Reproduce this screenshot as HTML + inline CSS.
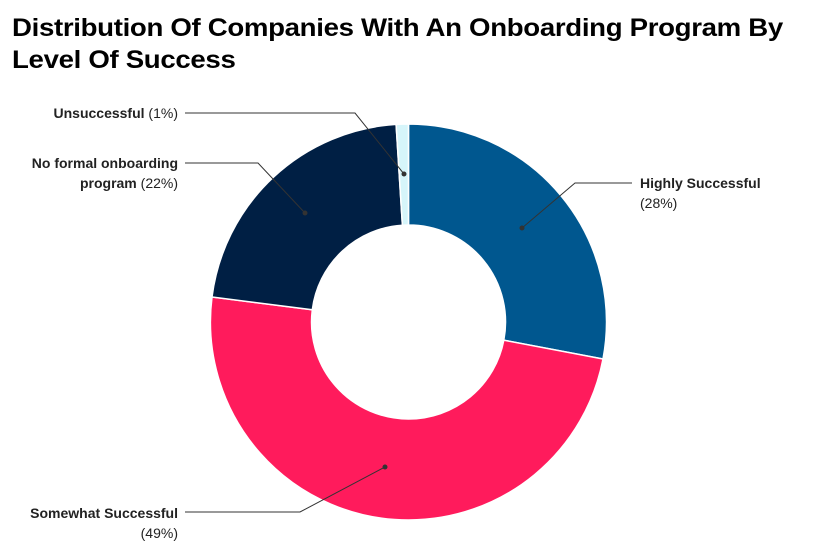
<!DOCTYPE html>
<html><head><meta charset="utf-8"><style>
body{margin:0;background:#fff;width:814px;height:552px;overflow:hidden;font-family:"Liberation Sans",sans-serif;}
h1{position:absolute;left:12px;top:12px;margin:0;font-size:25px;line-height:32px;font-weight:bold;color:#000;letter-spacing:-0.3px;white-space:nowrap;transform:scaleX(1.105);transform-origin:0 0}
</style></head><body>
<h1>Distribution Of Companies With An Onboarding Program By<br>Level Of Success</h1>
<svg width="814" height="552" style="position:absolute;left:0;top:0">
<g stroke="#fff" stroke-width="1.5">
<path d="M408.5,124 A198,198 0 0 1 603,359 L503.8,340.2 A97,97 0 0 0 408.5,225 Z" fill="#00578F"/>
<path d="M603,359 A198,198 0 0 1 408.5,520 A198,198 0 0 1 212,297 L312.3,309.8 A97,97 0 0 0 408.5,419 A97,97 0 0 0 503.8,340.2 Z" fill="#FF1B5C"/>
<path d="M212,297 A198,198 0 0 1 396.1,124.4 L402.4,225.2 A97,97 0 0 0 312.3,309.8 Z" fill="#001F44"/>
<path d="M396.1,124.4 A198,198 0 0 1 408.5,124 L408.5,225 A97,97 0 0 0 402.4,225.2 Z" fill="#D6F5FA"/>
</g>
<g stroke="#333" stroke-width="1" fill="none">
<polyline points="522,228 575,183 632,183"/>
<polyline points="385,467 300,512 185,512"/>
<polyline points="305,213 258,163 185,163"/>
<polyline points="404,174 355,113 185,113"/>
</g>
<g fill="#333"><circle cx="522" cy="228" r="2.5"/><circle cx="385" cy="467" r="2.5"/><circle cx="305" cy="213" r="2.5"/><circle cx="404" cy="174" r="2.5"/></g>
<g font-size="14" fill="#222" font-family="Liberation Sans, sans-serif">
<text x="640" y="188"><tspan font-weight="bold">Highly Successful</tspan></text>
<text x="640" y="208">(28%)</text>
<text x="178" y="518" text-anchor="end"><tspan font-weight="bold">Somewhat Successful</tspan></text>
<text x="178" y="538" text-anchor="end">(49%)</text>
<text x="178" y="168" text-anchor="end"><tspan font-weight="bold">No formal onboarding</tspan></text>
<text x="178" y="188" text-anchor="end"><tspan font-weight="bold">program</tspan> (22%)</text>
<text x="178" y="118" text-anchor="end"><tspan font-weight="bold">Unsuccessful</tspan> (1%)</text>
</g>
</svg>
</body></html>
